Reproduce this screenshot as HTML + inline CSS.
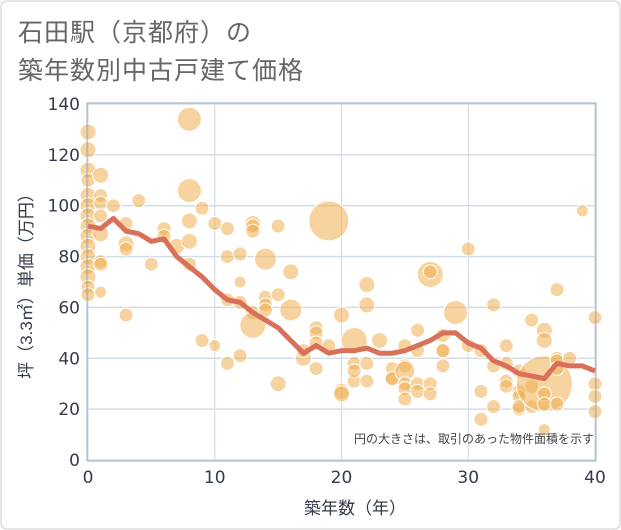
<!DOCTYPE html>
<html><head><meta charset="utf-8"><style>
body{margin:0;background:#fff;}
svg{display:block;font-family:"Liberation Sans","Noto Sans CJK JP",sans-serif;}
</style></head><body>
<svg id="chart" width="621" height="530">
<rect x="1" y="1" width="619" height="528" rx="6" fill="#fff" stroke="#ccc"/>
<text x="18" y="41" font-size="25" letter-spacing="1" fill="#666">石田駅（京都府）の</text>
<text x="18" y="79" font-size="25" letter-spacing="1" fill="#666">築年数別中古戸建て価格</text>
<g id="grid"></g>
<g id="bubbles"></g>
<g id="line"></g>
<g id="axes"></g>
<text x="594" y="443" font-size="12" fill="#444" text-anchor="end">円の大きさは、取引のあった物件面積を示す</text>
<text x="355" y="514" font-size="17" fill="#333c4a" text-anchor="middle">築年数（年）</text>
<text transform="translate(32,282) rotate(-90)" font-size="17" fill="#333c4a" text-anchor="middle">坪（3.3㎡）単価（万円）</text>
</svg>
<script>
const xTicks=[0,10,20,30,40];
const yTicks=[0,20,40,60,80,100,120,140];
const trendAges=[0,1,2,3,4,5,6,7,8,9,10,11,12,13,14,15,16,17,18,19,20,21,22,23,24,25,26,27,28,29,30,31,32,33,34,35,36,37,38,39,40];
const trendPrices=[92,91,95,90,89,86,87,80,76,72,67,63,62,58,55,52,47,42,45,42,43,43,44,42,42,43,45,47,50,50,46,44,39,37,34,33,32,38,37,37,35];
const bubbleAges=[0,0,0,0,0,0,0,0,0,0,0,0,0,0,0,1,1,1,1,1,1,1,1,2,3,3,3,3,4,5,6,6,7,8,8,8,8,8,9,9,10,10,11,11,11,11,12,12,12,12,13,13,13,13,13,14,14,14,14,15,15,15,16,16,17,17,18,18,18,18,19,19,20,20,20,21,21,21,21,22,22,22,22,23,24,24,24,25,25,25,25,25,25,26,26,26,26,27,27,27,27,28,28,28,28,29,30,30,31,31,31,32,32,32,33,33,33,33,34,34,34,34,34,35,35,35,36,36,36,36,36,36,37,37,37,37,37,38,39,40,40,40,40];
const bubblePrices=[129,122,114,110,104,100,96,92,88,84,80,76,72,68,65,112,104,101,96,89,78,77,66,100,93,85,83,57,102,77,91,88,84,134,106,94,86,77,99,47,93,45,91,80,63,38,81,70,62,41,93,92,90,58,53,79,64,61,59,92,65,30,74,59,40,43,52,50,46,36,94,45,57,27,26,47,38,31,35,69,61,38,31,47,36,32,32,45,37,35,30,28,24,51,43,30,27,73,74,30,26,49,43,43,37,58,83,45,43,27,16,61,37,21,45,38,31,29,35,27,25,20,21,55,29,21,51,47,30,26,22,12,67,40,39,36,22,40,98,56,30,25,19];
const bubbleAreas=[8,8,8,7,8,8,8,8,8,8,8,8,8,7,7,8,7,7,7,8,7,7,6,7,7,8,7,7,7,7,7,7,8,12,12,8,8,7,7,7,7,6,7,7,7,7,7,6,7,7,8,7,7,7,13,11,7,7,7,7,7,8,8,11,8,7,7,7,7,7,20,7,8,8,8,13,7,7,7,8,8,7,7,8,7,7,7,7,7,10,7,7,7,7,7,7,7,13,7,7,7,7,7,7,7,12,7,7,7,7,7,7,7,7,7,7,7,7,7,7,7,7,7,7,7,7,8,8,28,7,7,6,7,7,7,7,7,7,6,7,7,7,7];
const X0=88,X1=595,Y0=460,Y1=104;
const xs=v=>X0+(v-0)/(40-0)*(X1-X0);
const ys=v=>Y0-(v-0)/(140-0)*(Y0-Y1);
const NS="http://www.w3.org/2000/svg";
function mk(tag,attrs,parent){const e=document.createElementNS(NS,tag);for(const k in attrs)e.setAttribute(k,attrs[k]);document.getElementById(parent).appendChild(e);return e;}
yTicks.forEach(t=>{
  const l=mk('line',{x1:X0,x2:X1,y1:ys(t),y2:ys(t),stroke:'#d3dde8','stroke-width':1.5},'grid');
  
  
  const tx=mk('text',{x:X0-8,y:ys(t)+6,'font-size':17,fill:'#333c4a','text-anchor':'end','font-family':'DejaVu Sans, sans-serif'},'axes');
  tx.textContent=t;
  
  
});
xTicks.forEach(t=>{
  const l=mk('line',{x1:xs(t),x2:xs(t),y1:Y1,y2:Y0,stroke:'#d3dde8','stroke-width':1.2},'grid');
  
  
  const tx=mk('text',{x:xs(t),y:Y0+23,'font-size':17,fill:'#333c4a','text-anchor':'middle','font-family':'DejaVu Sans, sans-serif'},'axes');
  tx.textContent=t;
  
  
});
const fr=mk('rect',{x:X0-1,y:Y1-1,width:X1-X0+2,height:Y0-Y1+2,fill:'none',stroke:'#a0aab8','stroke-width':1},'axes');


bubbleAges.forEach((a,i)=>{
  const c=mk('circle',{cx:xs(a),cy:ys(bubblePrices[i]),r:bubbleAreas[i],fill:'rgba(240,175,80,0.55)',stroke:'#fff','stroke-width':1},'bubbles');
  
  
});
const pts=trendAges.map((a,i)=>xs(a)+','+ys(trendPrices[i])).join(' ');
const pl=mk('polyline',{points:pts,fill:'none',stroke:'#d9705a','stroke-width':5,'stroke-linejoin':'round'},'line');


</script>
</body></html>
